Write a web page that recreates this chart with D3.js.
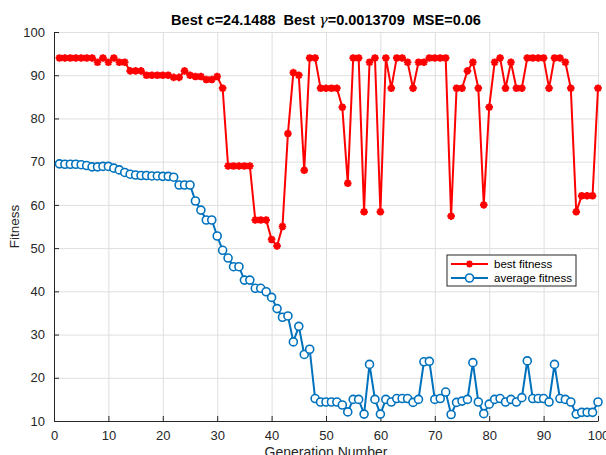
<!DOCTYPE html>
<html>
<head>
<meta charset="utf-8">
<script src="https://cdn.jsdelivr.net/npm/d3@7"></script>
<style>
  html, body { margin: 0; padding: 0; background: #fff; }
  svg { display: block; font-family: "Liberation Sans", Arial, sans-serif; }
</style>
</head>
<body>
<svg id="chart" width="606" height="455"></svg>
<script>
// generations 1..100
const geracoes = d3.range(1, 101);

const bestFitness = [
  94, 94, 94, 94, 94, 94, 94, 93, 94, 93,
  94, 93, 93, 91, 91, 91, 90, 90, 90, 90,
  90, 89.5, 89.5, 91, 90, 89.7, 89.7, 89, 89, 89.7,
  87, 69, 69, 69, 69, 69, 56.5, 56.5, 56.5, 52,
  50.5, 55, 76.5, 90.6, 90, 68, 94, 94, 87, 87,
  87, 87, 82.6, 65, 94, 94, 58.4, 93, 94, 58.4,
  94, 87, 94, 94, 93, 87, 93, 93, 94, 94,
  94, 94, 57.4, 87, 87, 91, 93, 87, 60, 82.6,
  93, 94, 87, 93, 87, 87, 94, 94, 94, 94,
  87, 94, 94, 93, 87, 58.4, 62.1, 62.1, 62.1, 87
];

const avgFitness = [
  69.5, 69.4, 69.4, 69.4, 69.3, 69.1, 68.8, 68.8, 68.9, 68.9,
  68.5, 68.1, 67.5, 67.1, 66.9, 66.8, 66.8, 66.7, 66.7, 66.6,
  66.6, 66.4, 64.6, 64.6, 64.6, 60.9, 58.8, 56.5, 56.5, 52.8,
  49.5, 47.7, 45.7, 45.7, 42.6, 42.6, 40.7, 40.7, 39.9, 38.6,
  36.0, 34.0, 34.3, 28.3, 31.9, 25.4, 26.6, 15.2, 14.4, 14.4,
  14.4, 14.4, 13.7, 12.1, 15.0, 15.0, 11.6, 23.1, 15.0, 11.6,
  15.0, 14.4, 15.2, 15.2, 15.2, 14.3, 15.0, 23.7, 23.8, 15.0,
  15.2, 16.7, 11.5, 14.3, 14.6, 15.0, 23.5, 14.4, 11.7, 13.9,
  15.0, 15.2, 14.4, 15.0, 14.4, 15.4, 23.9, 15.2, 15.2, 15.2,
  14.4, 23.1, 15.2, 15.0, 14.4, 11.6, 12.0, 12.0, 12.0, 14.4
];

const xTicks = d3.range(0, 101, 10);
const yTicks = d3.range(10, 101, 10);

const W = 606, H = 455;
const margin = { top: 32, right: 8, bottom: 34, left: 54 };
const plotW = W - margin.left - margin.right;
const plotH = H - margin.top - margin.bottom;

const x = d3.scaleLinear().domain([0, 100]).range([0, plotW]);
const y = d3.scaleLinear().domain([10, 100]).range([plotH, 0]);

const svg = d3.select("#chart");
const g = svg.append("g").attr("transform", `translate(${margin.left},${margin.top})`);

// grid
g.append("g")
  .call(d3.axisLeft(y).tickValues(yTicks).tickSize(-plotW).tickFormat(""))
  .call((sel) => sel.select(".domain").remove())
  .call((sel) => sel.selectAll("line").attr("stroke", "#dfdfdf").attr("stroke-width", 1));

g.append("g")
  .attr("transform", `translate(0,${plotH})`)
  .call(d3.axisBottom(x).tickValues(xTicks).tickSize(-plotH).tickFormat(""))
  .call((sel) => sel.select(".domain").remove())
  .call((sel) => sel.selectAll("line").attr("stroke", "#dfdfdf").attr("stroke-width", 1));

// axes (ticks inward)
g.append("g")
  .attr("transform", `translate(0,${plotH})`)
  .call(d3.axisBottom(x).tickValues(xTicks).tickSizeInner(-5).tickSizeOuter(0).tickPadding(10))
  .call((sel) => sel.selectAll("text").attr("fill", "#262626").attr("font-size", "13px").attr("font-family", "Liberation Sans, Arial, sans-serif"))
  .call((sel) => sel.selectAll("line,.domain").attr("stroke", "#262626").attr("stroke-width", 1));

g.append("g")
  .call(d3.axisLeft(y).tickValues(yTicks).tickSizeInner(-5).tickSizeOuter(0).tickPadding(9))
  .call((sel) => sel.selectAll("text").attr("fill", "#262626").attr("font-size", "13px").attr("font-family", "Liberation Sans, Arial, sans-serif"))
  .call((sel) => sel.selectAll("line,.domain").attr("stroke", "#262626").attr("stroke-width", 1));

// labels
svg.append("text")
  .attr("x", margin.left + plotW / 2).attr("y", 25)
  .attr("text-anchor", "middle").attr("font-size", "14.5px").attr("font-weight", "bold").attr("fill", "#000")
  .style("white-space", "pre")
  .call((t) => {
    t.append("tspan").text("Best c=24.1488  Best ");
    t.append("tspan").attr("font-family", "DejaVu Serif, serif").attr("font-style", "italic").attr("font-weight", "normal").text("γ");
    t.append("tspan").text("=0.0013709  MSE=0.06");
  });

svg.append("text")
  .attr("transform", `translate(19,${margin.top + plotH / 2}) rotate(-90)`)
  .attr("text-anchor", "middle").attr("font-size", "13.5px").attr("fill", "#262626")
  .text("Fitness");

svg.append("text")
  .attr("x", margin.left + plotW / 2).attr("y", 457)
  .attr("text-anchor", "middle").attr("font-size", "14px").attr("fill", "#262626")
  .text("Generation Number");

// series
const linha = d3.line().x((d, i) => x(geracoes[i])).y((d) => y(d));

g.append("path")
  .datum(bestFitness)
  .attr("fill", "none").attr("stroke", "#ff0000").attr("stroke-width", 2)
  .attr("d", linha);

g.append("path")
  .datum(avgFitness)
  .attr("fill", "none").attr("stroke", "#0072bd").attr("stroke-width", 2)
  .attr("d", linha);

const asterisco = (r) => {
  const a = r * 0.7071;
  return `M${-r},0L${r},0M0,${-r}L0,${r}M${-a},${-a}L${a},${a}M${-a},${a}L${a},${-a}`;
};

g.selectAll("path.ponto-best")
  .data(bestFitness)
  .join("path")
  .attr("class", "ponto-best")
  .attr("transform", (d, i) => `translate(${x(geracoes[i])},${y(d)})`)
  .attr("d", asterisco(3.8))
  .attr("fill", "none").attr("stroke", "#ff0000").attr("stroke-width", 2.2);

g.selectAll("circle.ponto-avg")
  .data(avgFitness)
  .join("circle")
  .attr("class", "ponto-avg")
  .attr("cx", (d, i) => x(geracoes[i]))
  .attr("cy", (d) => y(d))
  .attr("r", 4)
  .attr("fill", "#fff").attr("stroke", "#0072bd").attr("stroke-width", 1.6);

// legend
const leg = svg.append("g").attr("transform", "translate(447,255)");
leg.append("rect").attr("width", 129).attr("height", 31)
  .attr("fill", "#fff").attr("stroke", "#262626").attr("stroke-width", 1);

leg.append("line").attr("x1", 4).attr("x2", 41).attr("y1", 9).attr("y2", 9)
  .attr("stroke", "#ff0000").attr("stroke-width", 2);
leg.append("path").attr("transform", "translate(22.5,9)").attr("d", asterisco(3.5))
  .attr("fill", "none").attr("stroke", "#ff0000").attr("stroke-width", 2);
leg.append("text").attr("x", 47).attr("y", 13).attr("font-size", "11.5px").attr("fill", "#000").text("best fitness");

leg.append("line").attr("x1", 4).attr("x2", 41).attr("y1", 23).attr("y2", 23)
  .attr("stroke", "#0072bd").attr("stroke-width", 2);
leg.append("circle").attr("cx", 22.5).attr("cy", 23).attr("r", 4)
  .attr("fill", "#fff").attr("stroke", "#0072bd").attr("stroke-width", 1.6);
leg.append("text").attr("x", 47).attr("y", 27).attr("font-size", "11.5px").attr("fill", "#000").text("average fitness");
</script>
</body>
</html>
